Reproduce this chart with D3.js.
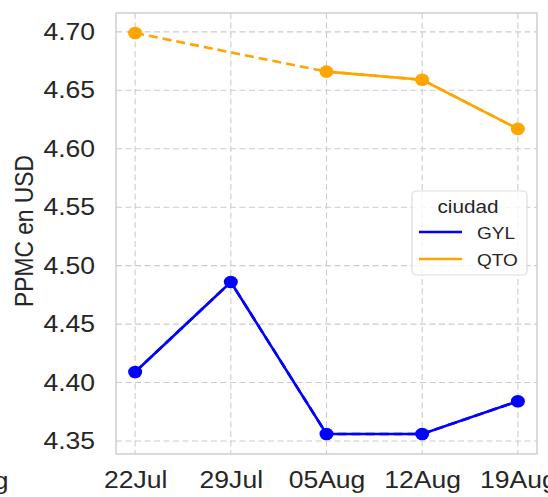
<!DOCTYPE html>
<html>
<head>
<meta charset="utf-8">
<script src="https://cdn.jsdelivr.net/npm/d3@7"></script>
<style>
  body { margin: 0; background: #fff; }
  svg { display: block; font-family: "Liberation Sans", Arial, sans-serif; }
</style>
</head>
<body>
<svg id="chart" width="548" height="497"></svg>
<script>
// weekly PPMC price per city
const weeks = ['22Jul', '29Jul', '05Aug', '12Aug', '19Aug'];
const gyl = [4.409, 4.486, 4.356, 4.356, 4.384];
const qto = [4.699, null, 4.666, 4.659, 4.617];
const yTicks = [4.35, 4.40, 4.45, 4.50, 4.55, 4.60, 4.65, 4.70];

const series = [
    {name: 'GYL', values: gyl, color: '#0000ff'},
    {name: 'QTO', values: qto, color: '#ffa500'}
];

const svg = d3.select('#chart');
const pLeft = 116, pRight = 537, pTop = 13, pBottom = 454;
const sx = 1.12; // the original picture is a bit stretched sideways

// 5% margins like matplotlib
const x = d3.scaleLinear()
    .domain([-0.2, weeks.length - 1 + 0.2])
    .range([pLeft, pRight]);

const all = gyl.concat(qto).filter(v => v != null);
const lo = d3.min(all), hi = d3.max(all), pad = (hi - lo) * 0.05;
const y = d3.scaleLinear()
    .domain([lo - pad, hi + pad])
    .range([pBottom, pTop]);

// grid
const grid = svg.append('g');
grid.selectAll('line.gx')
    .data(weeks)
    .enter().append('line')
    .attr('x1', (d, i) => x(i)).attr('x2', (d, i) => x(i))
    .attr('y1', pTop).attr('y2', pBottom)
    .attr('stroke', '#cccccc').attr('stroke-width', 1.1)
    .attr('stroke-dasharray', '6,3.5');
grid.selectAll('line.gy')
    .data(yTicks)
    .enter().append('line')
    .attr('x1', pLeft).attr('x2', pRight)
    .attr('y1', d => y(d)).attr('y2', d => y(d))
    .attr('stroke', '#cccccc').attr('stroke-width', 1.1)
    .attr('stroke-dasharray', '6,3.5');

// frame
svg.append('rect')
    .attr('x', pLeft).attr('y', pTop)
    .attr('width', pRight - pLeft).attr('height', pBottom - pTop)
    .attr('fill', 'none')
    .attr('stroke', '#cccccc').attr('stroke-width', 1.4);

// y axis
const yAxis = svg.append('g')
    .attr('transform', `translate(${pLeft},0)`)
    .call(d3.axisLeft(y).tickValues(yTicks).tickFormat(d3.format('.2f')).tickSize(0).tickPadding(18.7));
yAxis.select('.domain').remove();
yAxis.selectAll('text')
    .attr('fill', '#262626')
    .attr('transform', `scale(${sx},1)`)
    .style('font-size', '23.7px')
    .style('font-family', '"Liberation Sans", Arial, sans-serif');

// x axis
const xAxis = svg.append('g')
    .attr('transform', `translate(0,${pBottom})`)
    .call(d3.axisBottom(x).tickValues(d3.range(weeks.length)).tickFormat(i => weeks[i]).tickSize(0).tickPadding(17));
xAxis.select('.domain').remove();
xAxis.selectAll('text')
    .attr('fill', '#262626')
    .attr('transform', `scale(${sx},1)`)
    .style('font-size', '23.7px')
    .style('font-family', '"Liberation Sans", Arial, sans-serif');

// fragment of the neighbouring panel's last tick label
svg.append('text')
    .attr('transform', `translate(8.5,489) scale(${sx},1)`)
    .attr('text-anchor', 'end')
    .attr('fill', '#262626')
    .style('font-size', '23.7px')
    .text(weeks[weeks.length - 1]);

// y label
svg.append('text')
    .attr('transform', `translate(33,231) scale(${sx},1) rotate(-90)`)
    .attr('text-anchor', 'middle')
    .attr('fill', '#262626')
    .style('font-size', '22.8px')
    .text('PPMC en USD');

// lines
const solid = d3.line()
    .defined(d => d.v != null)
    .x(d => x(d.i)).y(d => y(d.v));

series.forEach(s => {
    const pts = s.values.map((v, i) => ({i: i, v: v}));
    const known = pts.filter(d => d.v != null);
    // dashed across missing weeks
    svg.append('path')
        .attr('d', solid(known))
        .attr('fill', 'none')
        .attr('stroke', s.color)
        .attr('stroke-width', 2.6)
        .attr('stroke-dasharray', '9,5');
    svg.append('path')
        .attr('d', solid(pts))
        .attr('fill', 'none')
        .attr('stroke', s.color)
        .attr('stroke-width', 2.6);
    svg.selectAll(null)
        .data(known)
        .enter().append('ellipse')
        .attr('cx', d => x(d.i)).attr('cy', d => y(d.v))
        .attr('rx', 7).attr('ry', 6.3)
        .attr('fill', s.color);
});

// legend
const lg = svg.append('g').attr('transform', 'translate(412,191)');
lg.append('rect')
    .attr('width', 115).attr('height', 84).attr('rx', 4)
    .attr('fill', 'white').attr('fill-opacity', 0.8)
    .attr('stroke', '#dddddd').attr('stroke-width', 1.2);
lg.append('text')
    .attr('transform', `translate(56,22) scale(${sx},1)`)
    .attr('text-anchor', 'middle')
    .attr('fill', '#262626')
    .style('font-size', '18.5px')
    .text('ciudad');
series.forEach((s, k) => {
    const yy = 41 + k * 27;
    lg.append('line')
        .attr('x1', 7).attr('x2', 50)
        .attr('y1', yy).attr('y2', yy)
        .attr('stroke', s.color).attr('stroke-width', 2.6);
    lg.append('text')
        .attr('transform', `translate(65,${yy + 7}) scale(${sx},1)`)
        .attr('fill', '#262626')
        .style('font-size', '17px')
        .text(s.name);
});
</script>
</body>
</html>
